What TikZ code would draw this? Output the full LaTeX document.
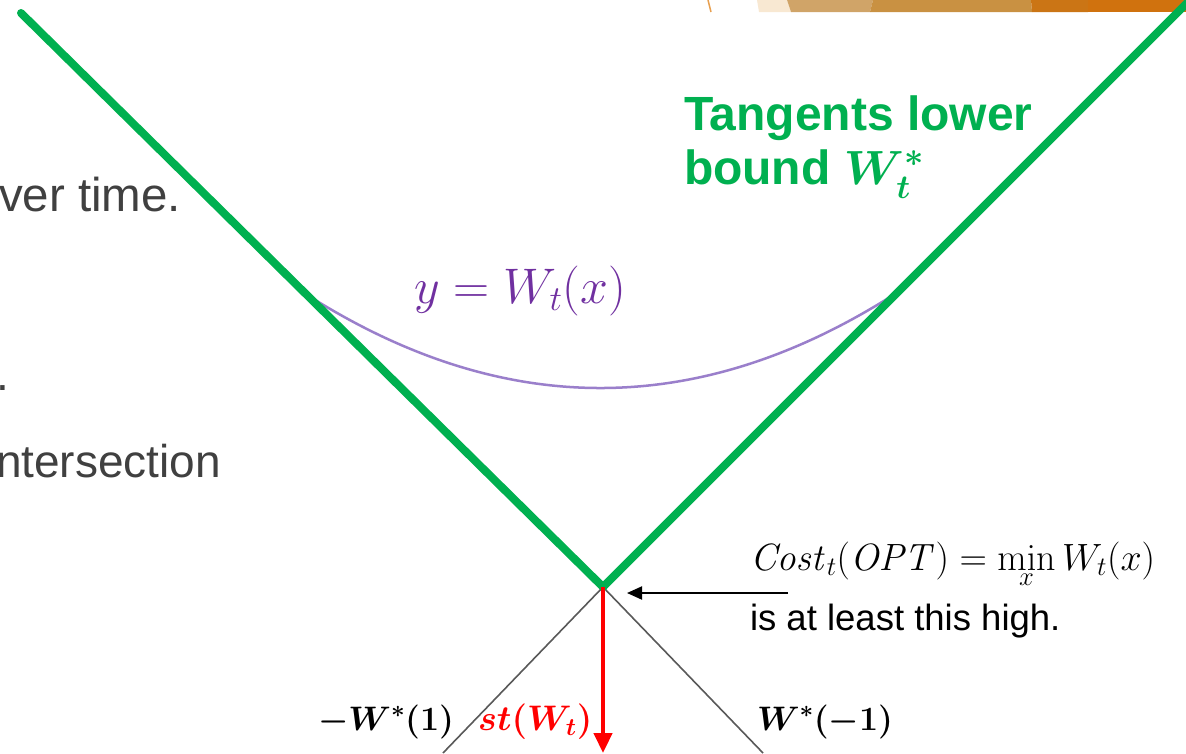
\RequirePackage{fix-cm}
\documentclass[tikz,border=0pt]{standalone}
\usepackage{amsmath,bm}
\usepackage[no-math]{fontspec}
\setmainfont{Liberation Sans}
\usetikzlibrary{arrows.meta}
\definecolor{tgreen}{HTML}{00B050}
\definecolor{tpurple}{HTML}{7030A0}
\definecolor{curvepurple}{HTML}{9A7FCB}
\definecolor{tgray}{HTML}{404040}
\definecolor{lgray}{HTML}{595959}
\definecolor{tred}{HTML}{FF0000}
\definecolor{bandA}{HTML}{F8E8D2}
\definecolor{bandB}{HTML}{D0A468}
\definecolor{bandC}{HTML}{C99142}
\definecolor{bandD}{HTML}{CB7515}
\definecolor{bandE}{HTML}{D0720E}
\definecolor{bandLine}{HTML}{E8A050}
\tikzset{
  tangent/.style={draw=tgreen, line width=8pt, line join=miter},
  helper/.style={draw=lgray, line width=1.6pt},
  wcurve/.style={draw=curvepurple, line width=2.5pt},
  lbl/.style={inner sep=0pt, outer sep=0pt},
  bodytext/.style={lbl, text=tgray, font=\fontsize{46}{55}\selectfont},
  greentext/.style={lbl, text=tgreen, font=\bfseries\boldmath\fontsize{48}{55}\selectfont, anchor=base west},
  boldlabel/.style={lbl, font=\boldmath\fontsize{34}{41}\selectfont, anchor=base west},
}
\begin{document}
\begin{tikzpicture}[x=1pt,y=-1pt]
\clip (0,0) rectangle (1186,753);
\fill[white] (0,0) rectangle (1186,753);
% decorative band at the top
\draw[bandLine, line width=1.5pt] (708,0) -- (711,12);
\fill[bandA] (757,0) -- (787,0) -- (791,12) -- (759,12) -- cycle;
\fill[bandB] (787,0) -- (873,0) -- (870,12) -- (791,12) -- cycle;
\fill[bandC] (873,0) -- (1031,0) -- (1032,12) -- (870,12) -- cycle;
\fill[bandD] (1031,0) -- (1088,0) -- (1088,12) -- (1032,12) -- cycle;
\fill[bandE] (1088,0) -- (1186,0) -- (1186,12) -- (1088,12) -- cycle;
% left body text (cut off)
\node[bodytext, font=\fontsize{47.5}{55}\selectfont, anchor=base west] (t1) at (-1,211) {ver time.};
\node[bodytext, anchor=base east] (t2) at (9,390) {.};
\node[bodytext, anchor=base west] (t3) at (-4,477) {ntersection};
% key points
\coordinate (V) at (603,587);
\coordinate (TL) at (21,13);
\coordinate (TR) at (1200,-10);
\coordinate (GL) at (443,753);
\coordinate (GR) at (763,753);
\coordinate (RB) at (603,753);
\coordinate (CL) at (312,298);
\coordinate (CR) at (898,292);
% helper lines
\draw[helper] (GL) -- (V) -- (GR);
% curve
\draw[wcurve] (CL) .. controls (506,419) and (701,419) .. (CR);
% tangents
\draw[tangent, line cap=round] (TL) -- (V) -- (TR);
% red arrow
\draw[tred, line width=4.5pt, -{Triangle[width=18pt,length=20pt]}] (V) -- (RB);
% labels
\node[greentext] (g1) at (684,130) {Tangents lower};
\node[greentext] (g2) at (684,184) {bound $W_t^*$};
\node[lbl, text=tpurple, font=\fontsize{50}{58}\selectfont, anchor=base west] (ylab) at (414,303) {$y=W_t(x)$};
\node[lbl, font=\fontsize{38}{45}\selectfont, anchor=base west] (cost) at (750,570) {$\mathit{Cost}_t(\mathit{OPT})=\min\limits_x W_t(x)$};
\node[lbl, font=\fontsize{36.5}{44}\selectfont, anchor=base west] (high) at (750,630) {is at least this high.};
\coordinate (AS) at (788,593);
\coordinate (AE) at (627,593);
\draw[black, line width=2pt, -{Triangle[width=13pt,length=15pt]}] (AS) -- (AE);
\node[boldlabel] (wm) at (318,730) {$-W^*(1)$};
\node[boldlabel, text=tred, font=\boldmath\fontsize{35.5}{42}\selectfont] (st) at (478,730) {$st(W_t)$};
\node[boldlabel] (wp) at (757,730) {$W^*(-1)$};
\end{tikzpicture}
\end{document}
